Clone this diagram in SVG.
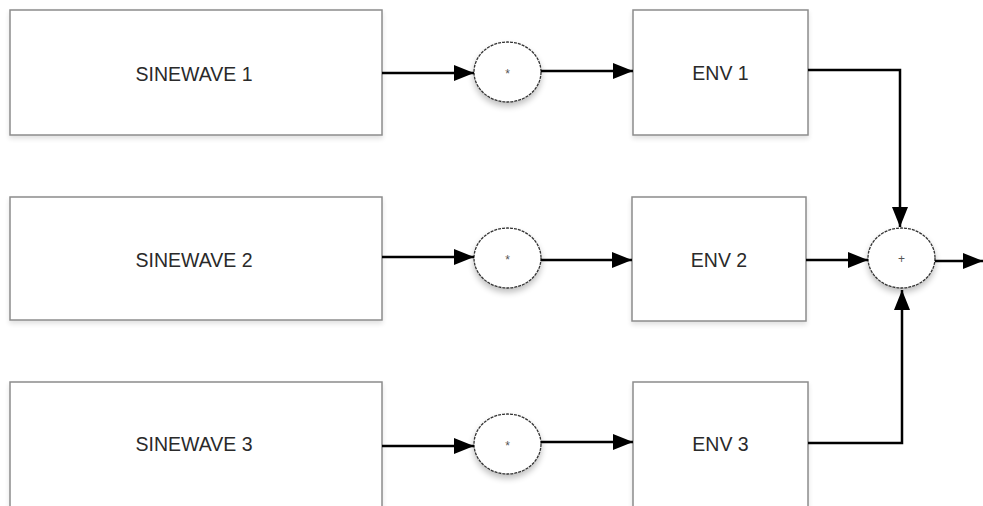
<svg xmlns="http://www.w3.org/2000/svg" width="983" height="506" viewBox="0 0 983 506">
<style>
.box{fill:#fff;stroke:#8c8c8c;stroke-width:1.5}
.circ{fill:#fff;stroke:#333;stroke-width:1.3;stroke-dasharray:3 1}
.lbl{font-family:"Liberation Sans",Arial,sans-serif;font-size:19.5px;fill:#2a2a2a;text-anchor:middle}
.op{font-family:"Liberation Sans",Arial,sans-serif;font-size:12px;fill:#555;text-anchor:middle}
.wire{fill:none;stroke:#000;stroke-width:2.5}
</style>
<defs>
<filter id="sh" x="-20%" y="-20%" width="140%" height="150%">
<feGaussianBlur in="SourceAlpha" stdDeviation="3"/>
<feOffset dy="4"/>
<feComponentTransfer><feFuncA type="linear" slope="0.25"/></feComponentTransfer>
<feMerge><feMergeNode/><feMergeNode in="SourceGraphic"/></feMerge>
</filter>
<filter id="bsh" x="-5%" y="-10%" width="110%" height="125%">
<feGaussianBlur in="SourceAlpha" stdDeviation="2.5"/>
<feOffset dy="3"/>
<feComponentTransfer><feFuncA type="linear" slope="0.12"/></feComponentTransfer>
<feMerge><feMergeNode/><feMergeNode in="SourceGraphic"/></feMerge>
</filter>
<marker id="arr" viewBox="0 0 20 16" refX="20" refY="8" markerWidth="20" markerHeight="16" markerUnits="userSpaceOnUse" orient="auto">
<path d="M0,0 L20,8 L0,16 Z" fill="#000"/>
</marker>
</defs>
<rect width="983" height="506" fill="#fff"/>

<g id="sinewave1"><rect class="box" filter="url(#bsh)" x="10" y="10" width="372" height="125"/><text class="lbl" x="194" y="81">SINEWAVE 1</text></g>
<g id="sinewave2"><rect class="box" filter="url(#bsh)" x="10" y="197" width="372" height="123"/><text class="lbl" x="194" y="267">SINEWAVE 2</text></g>
<g id="sinewave3"><rect class="box" filter="url(#bsh)" x="10" y="382" width="372" height="130"/><text class="lbl" x="194" y="451">SINEWAVE 3</text></g>

<g id="mul1"><ellipse class="circ" filter="url(#sh)" cx="507.5" cy="72" rx="33.5" ry="30"/><text class="op" x="507.5" y="78">*</text></g>
<g id="mul2"><ellipse class="circ" filter="url(#sh)" cx="507.5" cy="258" rx="33.5" ry="30"/><text class="op" x="507.5" y="264">*</text></g>
<g id="mul3"><ellipse class="circ" filter="url(#sh)" cx="507.5" cy="444" rx="33.5" ry="30"/><text class="op" x="507.5" y="450">*</text></g>

<g id="env1"><rect class="box" filter="url(#bsh)" x="633" y="10" width="175" height="125"/><text class="lbl" x="720.5" y="80">ENV 1</text></g>
<g id="env2"><rect class="box" filter="url(#bsh)" x="632" y="197" width="174" height="124"/><text class="lbl" x="719" y="267">ENV 2</text></g>
<g id="env3"><rect class="box" filter="url(#bsh)" x="633" y="382" width="175" height="130"/><text class="lbl" x="720.5" y="451">ENV 3</text></g>

<g id="sum"><ellipse class="circ" filter="url(#sh)" cx="901.5" cy="258" rx="33.5" ry="30"/><text class="op" x="901.5" y="263">+</text></g>

<g id="connectors">
<path class="wire" marker-end="url(#arr)" d="M382,73 L474,73"/>
<path class="wire" marker-end="url(#arr)" d="M541,71 L633,71"/>
<path class="wire" marker-end="url(#arr)" d="M382,257 L474,257"/>
<path class="wire" marker-end="url(#arr)" d="M541,260 L632,260"/>
<path class="wire" marker-end="url(#arr)" d="M382,446 L474,446"/>
<path class="wire" marker-end="url(#arr)" d="M541,442 L633,442"/>
<path class="wire" marker-end="url(#arr)" d="M808,70 L900,70 L900,227"/>
<path class="wire" marker-end="url(#arr)" d="M806,260 L868,260"/>
<path class="wire" marker-end="url(#arr)" d="M808,443 L902,443 L902,290"/>
<path class="wire" marker-end="url(#arr)" d="M935,261 L983,261"/>
</g>
</svg>
